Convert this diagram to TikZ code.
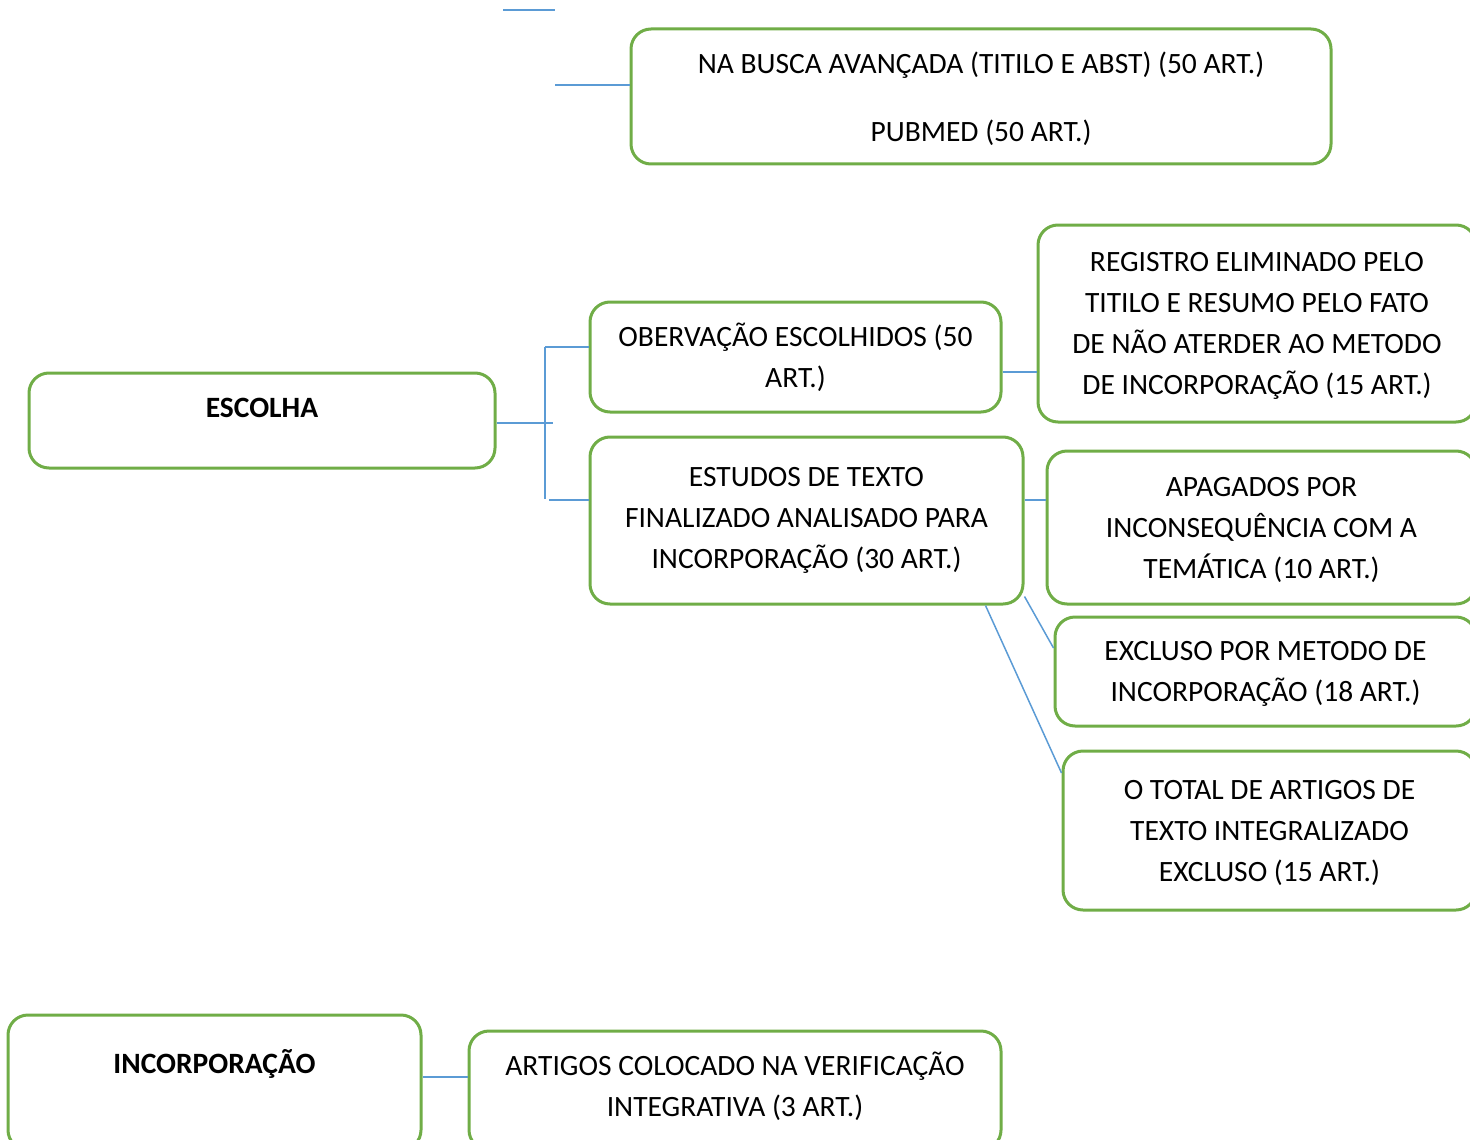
\documentclass[tikz,border=0pt]{standalone}
\usepackage{fontspec}
\setmainfont{Carlito}
\usepackage{tikz}
\usepackage{xcolor}

\definecolor{boxgreen}{HTML}{70AD47}
\definecolor{linkblue}{HTML}{5B9BD5}

\begin{document}
\begin{tikzpicture}[
    x=0.5pt, y=-0.5pt,
    box/.style={draw=boxgreen, line width=1.5pt, rounded corners=10pt,
                align=center, inner sep=0pt,
                font=\fontsize{14.75}{20.5}\selectfont},
    lowtext/.style={text depth=-3.5pt},
    link/.style={draw=linkblue, line width=0.75pt},
  ]
  \useasboundingbox (0,0) rectangle (1470,1139);
  \clip (0,0) rectangle (1470,1139);

  \node[box, lowtext, minimum width=350pt, minimum height=67.5pt] (pubmed) at (981,96.5)
      {NA BUSCA AVANÇADA (TITILO E ABST) (50 ART.)\\[13.5pt] PUBMED (50 ART.)};
  \node[box, minimum width=233pt, minimum height=47.5pt] (escolha) at (262,420.5)
      {\raisebox{6.5pt}[\height][\depth]{\textbf{ESCOLHA}}};
  \node[box, minimum width=205.5pt, minimum height=55pt] (obs) at (795.5,357)
      {OBERVAÇÃO ESCOLHIDOS (50\\ ART.)};
  \node[box, lowtext, minimum width=219pt, minimum height=98.5pt] (registro) at (1257,323.5)
      {REGISTRO ELIMINADO PELO\\ TITILO E RESUMO PELO FATO\\ DE NÃO ATERDER AO METODO\\ DE INCORPORAÇÃO (15 ART.)};
  \node[box, minimum width=216.5pt, minimum height=83.5pt] (estudos) at (806.5,520.5)
      {ESTUDOS DE TEXTO\\ FINALIZADO ANALISADO PARA\\ INCORPORAÇÃO (30 ART.)};
  \node[box, lowtext, minimum width=214.5pt, minimum height=76.5pt] (apagados) at (1261.5,527.5)
      {APAGADOS POR\\ INCONSEQUÊNCIA COM A\\ TEMÁTICA (10 ART.)};
  \node[box, lowtext, minimum width=210.5pt, minimum height=54.5pt] (excluso) at (1265.5,671.5)
      {EXCLUSO POR METODO DE\\ INCORPORAÇÃO (18 ART.)};
  \node[box, text depth=-2pt, minimum width=206.5pt, minimum height=79.5pt] (total) at (1269.5,830.5)
      {O TOTAL DE ARTIGOS DE\\ TEXTO INTEGRALIZADO\\ EXCLUSO (15 ART.)};
  \node[box, minimum width=206.5pt, minimum height=67.5pt] (incorp) at (214.5,1082.5)
      {\raisebox{9.1pt}[\height][\depth]{\textbf{INCORPORAÇÃO}}};
  \node[box, text depth=6pt, minimum width=266pt, minimum height=59.5pt] (artigos) at (735,1090.5)
      {ARTIGOS COLOCADO NA VERIFICAÇÃO\\ INTEGRATIVA (3 ART.)};

  \coordinate (stubl) at (503,10);
  \coordinate (stubr) at (555,10);
  \coordinate (feed) at (555,85);
  \coordinate (tick) at (553,423);
  \coordinate (bustop) at (545,347);
  \coordinate (busbot) at (545,499);

  \draw[link] (stubl) -- (stubr);
  \draw[link] (feed) -- (feed -| pubmed.west);

  \draw[link] (escolha.east |- tick) -- (tick);
  \draw[link] (bustop) -- (busbot);
  \draw[link] (bustop) -- (bustop -| obs.west);
  \draw[link] ([xshift=2pt,yshift=-0.5pt]busbot) -- ([yshift=-0.5pt]busbot -| estudos.west);

  \draw[link] ([yshift=-7.5pt]obs.east) -- ([yshift=-7.5pt]obs.east -| registro.west);
  \draw[link] ([yshift=10.25pt]estudos.east) -- ([yshift=10.25pt]estudos.east -| apagados.west);
  \draw[link] ([yshift=4.5pt]estudos.south east) -- ([yshift=11.75pt]excluso.west);
  \draw[link] ([xshift=-19.5pt]estudos.south east) -- ([yshift=28.75pt]total.west);

  \draw[link] ([yshift=2.75pt]incorp.east) -- ([yshift=2.75pt]incorp.east -| artigos.west);
\end{tikzpicture}
\end{document}
